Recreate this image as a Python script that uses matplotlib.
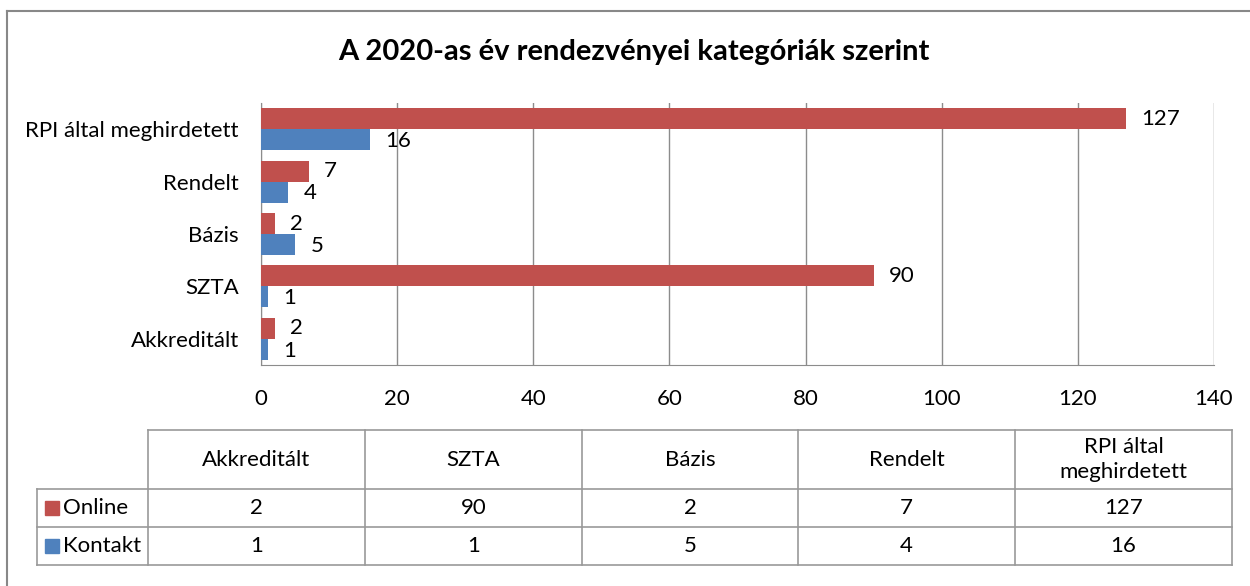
import matplotlib
matplotlib.use("Agg")
import matplotlib.pyplot as plt
from matplotlib.patches import Rectangle
from matplotlib.lines import Line2D

categories = ["Akkreditált", "SZTA", "Bázis", "Rendelt", "RPI által meghirdetett"]
table_headers = ["Akkreditált", "SZTA", "Bázis", "Rendelt", "RPI által\nmeghirdetett"]
online = [2, 90, 2, 7, 127]
kontakt = [1, 1, 5, 4, 16]
series_names = ["Online", "Kontakt"]
x_ticks = [0, 20, 40, 60, 80, 100, 120, 140]
title = "A 2020-as év rendezvényei kategóriák szerint"

RED = "#C0504D"
BLUE = "#4F81BD"
GRID = "#8C8C8C"
FS = 16
plt.rcParams['font.family'] = ['Lato', 'DejaVu Sans']

W, H = 1250, 586
fig = plt.figure(figsize=(W / 100, H / 100), dpi=100)

def fx(px):
    return px / W

def fy(py):
    return 1 - py / H

# outer border (left and top edges visible)
fig.add_artist(Line2D([fx(7), fx(7)], [fy(586), fy(11)], transform=fig.transFigure, color="#888888", lw=1.5))
fig.add_artist(Line2D([fx(7), fx(1250)], [fy(11), fy(11)], transform=fig.transFigure, color="#888888", lw=1.5))

ax = fig.add_axes([fx(261), fy(365), fx(1214) - fx(261), fy(103) - fy(365)])
ypos = list(range(len(categories)))
bh = 0.4
ax.barh([y + bh / 2 for y in ypos], online, height=bh, color=RED, zorder=3)
ax.barh([y - bh / 2 for y in ypos], kontakt, height=bh, color=BLUE, zorder=3)
for y, v in zip(ypos, online):
    ax.annotate(str(v), (v, y + bh / 2), xytext=(11, 0), textcoords="offset points",
                va="center", ha="left", fontsize=FS)
for y, v in zip(ypos, kontakt):
    ax.annotate(str(v), (v, y - bh / 2), xytext=(11, -1), textcoords="offset points",
                va="center", ha="left", fontsize=FS)

ax.set_xlim(0, 140)
ax.set_ylim(-0.5, len(categories) - 0.5)
ax.set_xticks(x_ticks)
ax.set_yticks(ypos)
ax.set_yticklabels(categories)
ax.tick_params(axis="both", length=0, labelsize=FS)
ax.tick_params(axis="x", pad=17)
ax.tick_params(axis="y", pad=16)
ax.grid(axis="x", color=GRID, lw=1, zorder=0)
for s in ["top", "right"]:
    ax.spines[s].set_visible(False)
ax.spines["left"].set_color(GRID)
ax.spines["bottom"].set_color(GRID)

fig.text(fx(634), fy(52), title, ha="center", va="center", fontsize=21, fontweight="bold")

# data table
col_edges = [148, 365, 582, 798, 1015, 1232]
row_edges = [430, 489, 527, 565]
left_edge = 37
lc = "#999999"

def hline(y, x0, x1):
    fig.add_artist(Line2D([fx(x0), fx(x1)], [fy(y), fy(y)], transform=fig.transFigure, color=lc, lw=1.2))

def vline(x, y0, y1):
    fig.add_artist(Line2D([fx(x), fx(x)], [fy(y0), fy(y1)], transform=fig.transFigure, color=lc, lw=1.2))

hline(row_edges[0], col_edges[0], col_edges[-1])
for y in row_edges[1:]:
    hline(y, left_edge, col_edges[-1])
for x in col_edges:
    vline(x, row_edges[0], row_edges[-1])
vline(left_edge, row_edges[1], row_edges[-1])

for i, h in enumerate(table_headers):
    cx = (col_edges[i] + col_edges[i + 1]) / 2
    cy = (row_edges[0] + row_edges[1]) / 2
    fig.text(fx(cx), fy(cy), h, ha="center", va="center", fontsize=FS, linespacing=1.35)

for r, (name, vals, col) in enumerate(zip(series_names, [online, kontakt], [RED, BLUE])):
    cy = (row_edges[r + 1] + row_edges[r + 2]) / 2
    fig.add_artist(Rectangle((fx(45), fy(cy + 7)), fx(59) - fx(45), fy(cy - 7) - fy(cy + 7),
                             transform=fig.transFigure, color=col))
    fig.text(fx(63), fy(cy), name, ha="left", va="center", fontsize=FS)
    for i, v in enumerate(vals):
        cx = (col_edges[i] + col_edges[i + 1]) / 2
        fig.text(fx(cx), fy(cy), str(v), ha="center", va="center", fontsize=FS)

fig.savefig("out.png", dpi=100)
